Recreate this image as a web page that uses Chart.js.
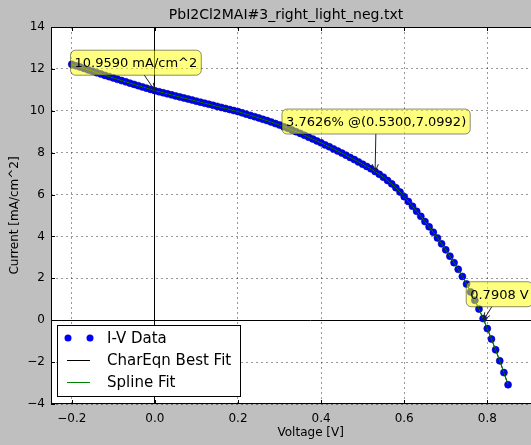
<!DOCTYPE html>
<html>
<head>
<meta charset="utf-8">
<script src="https://cdn.jsdelivr.net/npm/chart.js@4.4.1/dist/chart.umd.min.js"></script>
<style>
  html, body { margin: 0; padding: 0; background: #bfbfbf; overflow: hidden; }
  #wrap { width: 575px; height: 445px; }
</style>
</head>
<body>
<div id="wrap"><canvas id="c" width="575" height="445"></canvas></div>
<script>
const titleText = 'PbI2Cl2MAI#3_right_light_neg.txt';

// measured I-V points, voltage [V] and current density [mA/cm^2]
const voltage = [
  -0.20, -0.19, -0.18, -0.17, -0.16, -0.15, -0.14, -0.13, -0.12, -0.11,
  -0.10, -0.09, -0.08, -0.07, -0.06, -0.05, -0.04, -0.03, -0.02, -0.01,
  0.00, 0.01, 0.02, 0.03, 0.04, 0.05, 0.06, 0.07, 0.08, 0.09,
  0.10, 0.11, 0.12, 0.13, 0.14, 0.15, 0.16, 0.17, 0.18, 0.19,
  0.20, 0.21, 0.22, 0.23, 0.24, 0.25, 0.26, 0.27, 0.28, 0.29,
  0.30, 0.31, 0.32, 0.33, 0.34, 0.35, 0.36, 0.37, 0.38, 0.39,
  0.40, 0.41, 0.42, 0.43, 0.44, 0.45, 0.46, 0.47, 0.48, 0.49,
  0.50, 0.51, 0.52, 0.53, 0.54, 0.55, 0.56, 0.57, 0.58, 0.59,
  0.60, 0.61, 0.62, 0.63, 0.64, 0.65, 0.66, 0.67, 0.68, 0.69,
  0.70, 0.71, 0.72, 0.73, 0.74, 0.75, 0.76, 0.77, 0.78, 0.79,
  0.80, 0.81, 0.82, 0.83, 0.84, 0.85
];
const current = [
  12.22, 12.15, 12.09, 12.02, 11.95, 11.89, 11.82, 11.76, 11.69, 11.63,
  11.57, 11.50, 11.44, 11.38, 11.32, 11.26, 11.20, 11.14, 11.08, 11.02,
  10.96, 10.91, 10.86, 10.81, 10.76, 10.71, 10.66, 10.61, 10.56, 10.51,
  10.46, 10.41, 10.36, 10.31, 10.26, 10.21, 10.16, 10.11, 10.06, 10.01,
  9.96, 9.90, 9.84, 9.78, 9.72, 9.66, 9.59, 9.53, 9.46, 9.39,
  9.32, 9.24, 9.16, 9.08, 9.00, 8.92, 8.83, 8.74, 8.65, 8.56,
  8.47, 8.37, 8.28, 8.18, 8.08, 7.98, 7.88, 7.77, 7.67, 7.56,
  7.45, 7.34, 7.23, 7.10, 6.97, 6.83, 6.67, 6.51, 6.33, 6.12,
  5.90, 5.67, 5.44, 5.20, 4.96, 4.71, 4.46, 4.20, 3.93, 3.65,
  3.36, 3.06, 2.75, 2.43, 2.09, 1.73, 1.35, 0.95, 0.53, 0.08,
  -0.40, -0.90, -1.41, -1.94, -2.50, -3.08
];
// both fits sit on top of the measured points
const charEqnFit = current;
const splineFit = current;

// annotated values
const noteV = [0.0, 0.53, 0.7908];
const noteI = [10.959, 7.0992, 0.0];
const noteText = ['10.9590 mA/cm^2', '3.7626% @(0.5300,7.0992)', '0.7908 V'];
const noteOffset = [[-19, -28], [1, -50], [16, -26]]; // box centre relative to the point, px

const FONT = '"DejaVu Sans", sans-serif';
const pts = arr => voltage.map((v, k) => ({ x: v, y: arr[k] }));
const fmt = s => s.replace('-', '\u2212');
const isZero = v => Math.abs(v) < 1e-9;

function roundRect(ctx, x, y, w, h, r) {
  ctx.beginPath();
  ctx.moveTo(x + r, y);
  ctx.arcTo(x + w, y, x + w, y + h, r);
  ctx.arcTo(x + w, y + h, x, y + h, r);
  ctx.arcTo(x, y + h, x, y, r);
  ctx.arcTo(x, y, x + w, y, r);
  ctx.closePath();
}

const decor = {
  id: 'decor',
  beforeDraw(chart) {
    const { ctx, chartArea: a } = chart;
    ctx.save();
    ctx.fillStyle = '#ffffff';
    ctx.fillRect(a.left, a.top, a.right - a.left, a.bottom - a.top);
    ctx.restore();
  },
  afterDraw(chart) {
    const { ctx, chartArea: a, scales } = chart;
    const xs = scales.x, ys = scales.y;
    ctx.save();

    // frame + inward ticks
    ctx.strokeStyle = '#000';
    ctx.lineWidth = 1;
    ctx.strokeRect(a.left + 0.5, a.top + 0.5, a.right - a.left - 1, a.bottom - a.top - 1);
    ctx.beginPath();
    xs.ticks.forEach(t => {
      const px = Math.round(xs.getPixelForValue(t.value)) + 0.5;
      ctx.moveTo(px, a.bottom); ctx.lineTo(px, a.bottom - 4);
      ctx.moveTo(px, a.top); ctx.lineTo(px, a.top + 4);
    });
    ys.ticks.forEach(t => {
      const py = Math.round(ys.getPixelForValue(t.value)) + 0.5;
      ctx.moveTo(a.left, py); ctx.lineTo(a.left + 4, py);
      ctx.moveTo(a.right, py); ctx.lineTo(a.right - 4, py);
    });
    ctx.stroke();

    // annotations
    ctx.font = '13px ' + FONT;
    ctx.textAlign = 'center';
    ctx.textBaseline = 'middle';
    noteText.forEach((txt, k) => {
      const px = xs.getPixelForValue(noteV[k]);
      const py = ys.getPixelForValue(noteI[k]);
      const cx = px + noteOffset[k][0];
      const cy = py + noteOffset[k][1];
      const w = ctx.measureText(txt).width + 8;
      const h = 25;
      // arrow from box edge to point
      const dx = px - cx, dy = py - cy;
      const t = Math.min(Math.abs((w / 2) / (dx || 1e-6)), Math.abs((h / 2) / (dy || 1e-6)));
      const sx = cx + dx * t, sy = cy + dy * t;
      const ang = Math.atan2(py - sy, px - sx);
      ctx.strokeStyle = '#222';
      ctx.lineWidth = 1;
      ctx.beginPath();
      ctx.moveTo(sx, sy); ctx.lineTo(px, py);
      ctx.moveTo(px, py); ctx.lineTo(px - 8 * Math.cos(ang - 0.4), py - 8 * Math.sin(ang - 0.4));
      ctx.moveTo(px, py); ctx.lineTo(px - 8 * Math.cos(ang + 0.4), py - 8 * Math.sin(ang + 0.4));
      ctx.stroke();
      roundRect(ctx, cx - w / 2, cy - h / 2, w, h, 5);
      ctx.fillStyle = 'rgba(255,255,0,0.5)';
      ctx.fill();
      ctx.strokeStyle = 'rgba(0,0,0,0.45)';
      ctx.stroke();
      ctx.fillStyle = '#000';
      ctx.fillText(txt, cx, cy + 1);
    });

    // legend
    const lx = a.left + 6, ly = a.bottom - 8 - 71;
    ctx.fillStyle = '#fff';
    ctx.fillRect(lx, ly, 183, 71);
    ctx.strokeStyle = '#000';
    ctx.strokeRect(lx + 0.5, ly + 0.5, 183, 71);
    ctx.font = '15px ' + FONT;
    ctx.textAlign = 'left';
    ctx.textBaseline = 'middle';
    chart.data.datasets.forEach((ds, k) => {
      const ry = ly + 13 + k * 22;
      if (ds.showLine === false) {
        [lx + 11, lx + 33].forEach(dx => {
          ctx.beginPath();
          ctx.arc(dx, ry, 3.5, 0, Math.PI * 2);
          ctx.fillStyle = ds.backgroundColor;
          ctx.fill();
        });
      } else {
        ctx.beginPath();
        ctx.moveTo(lx + 10, ry + 0.5); ctx.lineTo(lx + 33, ry + 0.5);
        ctx.strokeStyle = ds.borderColor;
        ctx.lineWidth = ds.borderWidth;
        ctx.stroke();
      }
      ctx.fillStyle = '#000';
      ctx.fillText(ds.label, lx + 50, ry + 1);
    });

    // title
    ctx.font = '14px ' + FONT;
    ctx.textAlign = 'center';
    ctx.fillText(titleText, 286, 15);
    ctx.restore();
  }
};

const gridColor = c => (c.tick && isZero(c.tick.value)) ? '#000' : 'rgba(0,0,0,0.4)';
const gridDash = c => (c.type === 'tick' && c.tick && !isZero(c.tick.value)) ? [2, 3] : [];

new Chart(document.getElementById('c'), {
  type: 'scatter',
  data: {
    datasets: [
      {
        label: 'I-V Data',
        data: pts(current),
        showLine: false,
        pointRadius: 3.5,
        pointBorderWidth: 0.6,
        pointBorderColor: '#00009a',
        backgroundColor: '#0000ff',
        order: 3
      },
      {
        label: 'CharEqn Best Fit',
        data: pts(charEqnFit),
        showLine: true,
        borderColor: '#000000',
        borderWidth: 1,
        pointRadius: 0,
        tension: 0,
        order: 2
      },
      {
        label: 'Spline Fit',
        data: pts(splineFit),
        showLine: true,
        borderColor: '#008000',
        borderWidth: 1,
        pointRadius: 0,
        tension: 0,
        order: 1
      }
    ]
  },
  options: {
    responsive: false,
    animation: false,
    events: [],
    layout: { padding: { top: 27, left: 0, right: 0, bottom: 0 } },
    plugins: { legend: { display: false }, tooltip: { enabled: false } },
    scales: {
      x: {
        type: 'linear',
        min: -0.25, max: 1.0,
        afterFit: s => { s.height = 41; },
        afterBuildTicks: s => { s.ticks = s.ticks.filter(t => t.value < 0.95); },
        ticks: {
          stepSize: 0.2, includeBounds: false, padding: 8, maxRotation: 0,
          color: '#000', font: { family: FONT, size: 12 },
          callback: v => fmt(Number(v).toFixed(1))
        },
        grid: { color: gridColor, lineWidth: 1, drawTicks: false },
        border: { display: false, dash: gridDash },
        title: { display: true, text: 'Voltage [V]', color: '#000', font: { family: FONT, size: 12 }, padding: { top: 0, bottom: 5 } }
      },
      y: {
        type: 'linear',
        min: -4, max: 14,
        afterFit: s => { s.width = 51; },
        ticks: {
          stepSize: 2, padding: 6,
          color: '#000', font: { family: FONT, size: 12 },
          callback: v => fmt(String(v))
        },
        grid: { color: gridColor, lineWidth: 1, drawTicks: false },
        border: { display: false, dash: gridDash },
        title: { display: true, text: 'Current [mA/cm^2]', color: '#000', font: { family: FONT, size: 12 }, padding: { top: 8, bottom: 0 } }
      }
    }
  },
  plugins: [decor]
});
</script>
</body>
</html>
